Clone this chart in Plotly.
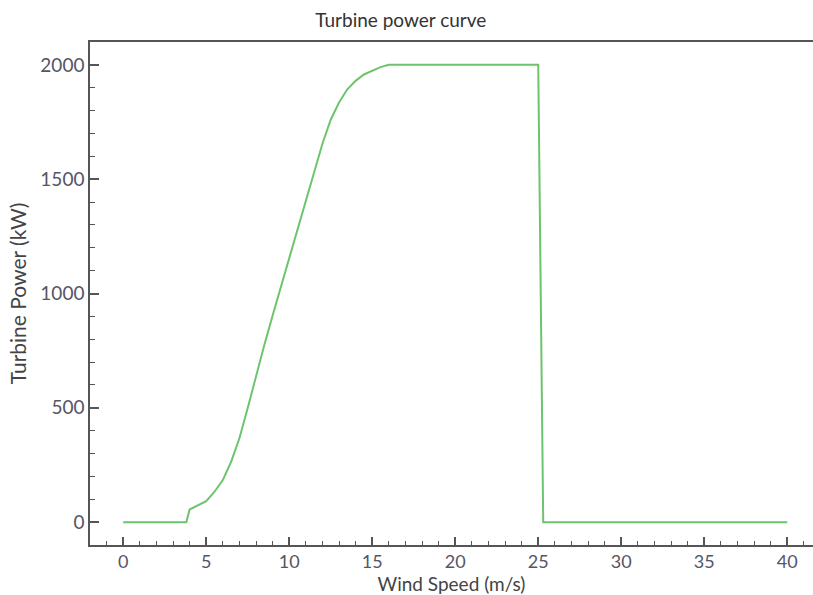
import plotly.graph_objects as go

wind_speed = [0, 3.8, 4.0, 4.3, 5.0, 5.5, 6.0, 6.5, 7.0, 7.5, 8.0, 8.5, 9.0, 9.5, 10.0,
              10.5, 11.0, 11.5, 12.0, 12.5, 13.0, 13.5, 14.0, 14.5, 15.0, 15.5, 16.0,
              25.0, 25.3, 40.0]
power_kw = [0, 0, 55, 67, 92, 133, 184, 264, 367, 499, 640, 775, 904, 1030, 1159,
            1285, 1414, 1540, 1655, 1760, 1835, 1893, 1930, 1958, 1975, 1990, 2000,
            2000, 0, 0]

title_text = "Turbine power curve"
x_title = "Wind Speed (m/s)"
y_title = "Turbine Power (kW)"

font_family = "Lato, DejaVu Sans, sans-serif"
axis_col = "#555555"

fig = go.Figure()
fig.add_trace(go.Scatter(x=wind_speed, y=power_kw, mode="lines",
                         line=dict(color="rgb(110,196,110)", width=2),
                         showlegend=False, hoverinfo="skip"))

fig.update_layout(
    width=813, height=595,
    margin=dict(l=90, r=0, t=42, b=50),
    plot_bgcolor="white", paper_bgcolor="white",
    title=dict(text=title_text, x=0.493, xanchor="center", y=0.965, yanchor="middle",
               font=dict(family=font_family, size=19, color="#333333")),
    font=dict(family=font_family, color="#555566"),
)

fig.update_xaxes(
    range=[-2, 41.55], showgrid=False, zeroline=False, automargin=False,
    showline=True, linecolor=axis_col, linewidth=1.5, mirror=True,
    ticks="inside", ticklen=8, tickcolor=axis_col, tickwidth=1.5,
    tickvals=[0, 5, 10, 15, 20, 25, 30, 35, 40],
    tickfont=dict(size=18, color="#555566"),
    minor=dict(dtick=1, ticks="inside", ticklen=4, tickcolor=axis_col, tickwidth=1),
    title=dict(text=x_title, font=dict(size=19, color="#444444"), standoff=4),
)
fig.update_yaxes(
    range=[-100, 2100], showgrid=False, zeroline=False, automargin=False,
    showline=True, linecolor=axis_col, linewidth=1.5,
    ticks="inside", ticklen=9, tickcolor=axis_col, tickwidth=1.5,
    tickvals=[0, 500, 1000, 1500, 2000],
    tickfont=dict(size=19, color="#555566"),
    minor=dict(dtick=100, ticks="inside", ticklen=5, tickcolor=axis_col, tickwidth=1),
    title=dict(text=y_title, font=dict(size=21, color="#444444"), standoff=8),
)

fig.write_html("out.html", config={"displayModeBar": False},
               post_script="document.body.style.margin='0px';document.body.style.overflow='hidden';")
